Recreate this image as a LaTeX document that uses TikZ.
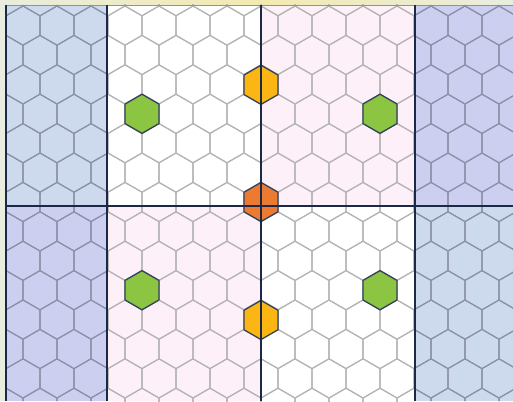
\documentclass[tikz,border=0pt]{standalone}
\usetikzlibrary{shapes.geometric}
\definecolor{bgpale}{HTML}{E8EDDF}
\definecolor{bgyel}{HTML}{F3EAB0}
\definecolor{cblue}{HTML}{CDDAEE}
\definecolor{clav}{HTML}{CDCFF0}
\definecolor{cpink}{HTML}{FDF0F8}
\definecolor{hexlight}{HTML}{B4B4B4}
\definecolor{hexdark}{HTML}{8A91A8}
\definecolor{navy}{HTML}{1C2848}
\definecolor{hexedge}{HTML}{34425C}
\definecolor{cgreen}{HTML}{8BC541}
\definecolor{cyellow}{HTML}{FBB614}
\definecolor{corange}{HTML}{EC7A31}
\tikzset{
  gridline/.style={line width=1.1pt, line join=round},
  divider/.style={draw=navy, line width=1.2pt},
  hexnode/.style={regular polygon, regular polygon sides=6, shape border rotate=30,
    minimum size=39.2pt, inner sep=0pt, outer sep=0pt, draw=hexedge, line width=1.3pt},
  hexcell/.pic={\draw[gridline] (30:19.6) -- (90:19.6) -- (150:19.6) -- (210:19.6) -- (270:19.6) -- (330:19.6) -- cycle;}
}
\begin{document}
\begin{tikzpicture}[x=1pt,y=-1pt]
\useasboundingbox (0,0) rectangle (513,401);
\fill[bgpale] (0,0) rectangle (513,401);
\shade[left color=bgpale, right color=bgpale, middle color=bgyel] (0,0) rectangle (513,5);
% regions
\fill[cblue] (6,5) rectangle (107,206);
\fill[white] (107,5) rectangle (261,206);
\fill[cpink] (261,5) rectangle (415,206);
\fill[clav] (415,5) rectangle (513,206);
\fill[clav] (6,206) rectangle (107,401);
\fill[cpink] (107,206) rectangle (261,401);
\fill[white] (261,206) rectangle (415,401);
\fill[cblue] (415,206) rectangle (513,401);
% light hex grid (middle)
\begin{scope}
  \clip (107,5) rectangle (415,401);
  \foreach \k in {-7,...,7} {
    \foreach \j in {-9,...,9} {
      \pgfmathsetmacro\xc{261+34*\j+17*mod(abs(\k),2)}
      \pgfmathsetmacro\yc{202+29.4*\k}
      \pic[draw=hexlight] at (\xc,\yc) {hexcell};
    }
  }
\end{scope}
% dark hex grid (outer columns)
\begin{scope}
  \clip (6,5) rectangle (107,401) (415,5) rectangle (513,401);
  \foreach \k in {-7,...,7} {
    \foreach \j in {-9,...,9} {
      \pgfmathsetmacro\xc{261+34*\j+17*mod(abs(\k),2)}
      \pgfmathsetmacro\yc{202+29.4*\k}
      \pic[draw=hexdark] at (\xc,\yc) {hexcell};
    }
  }
\end{scope}
% coloured cells
\node[hexnode, fill=cgreen] (g1) at (142,113.8) {};
\node[hexnode, fill=cgreen] (g2) at (380,113.8) {};
\node[hexnode, fill=cgreen] (g3) at (142,290.2) {};
\node[hexnode, fill=cgreen] (g4) at (380,290.2) {};
\node[hexnode, fill=cyellow] (y1) at (261,84.8) {};
\node[hexnode, fill=cyellow] (y2) at (261,320) {};
\node[hexnode, fill=corange] (o1) at (261,202) {};
% dividers
\draw[draw=hexdark, line width=0.8pt] (6,5) -- (513,5);
\draw[divider] (107,5) -- (107,401);
\draw[divider] (261,5) -- (261,401);
\draw[divider] (415,5) -- (415,401);
\draw[divider] (6,206) -- (513,206);
\draw[draw=navy, line width=2.4pt] (6,5) -- (6,401);
\end{tikzpicture}
\end{document}
